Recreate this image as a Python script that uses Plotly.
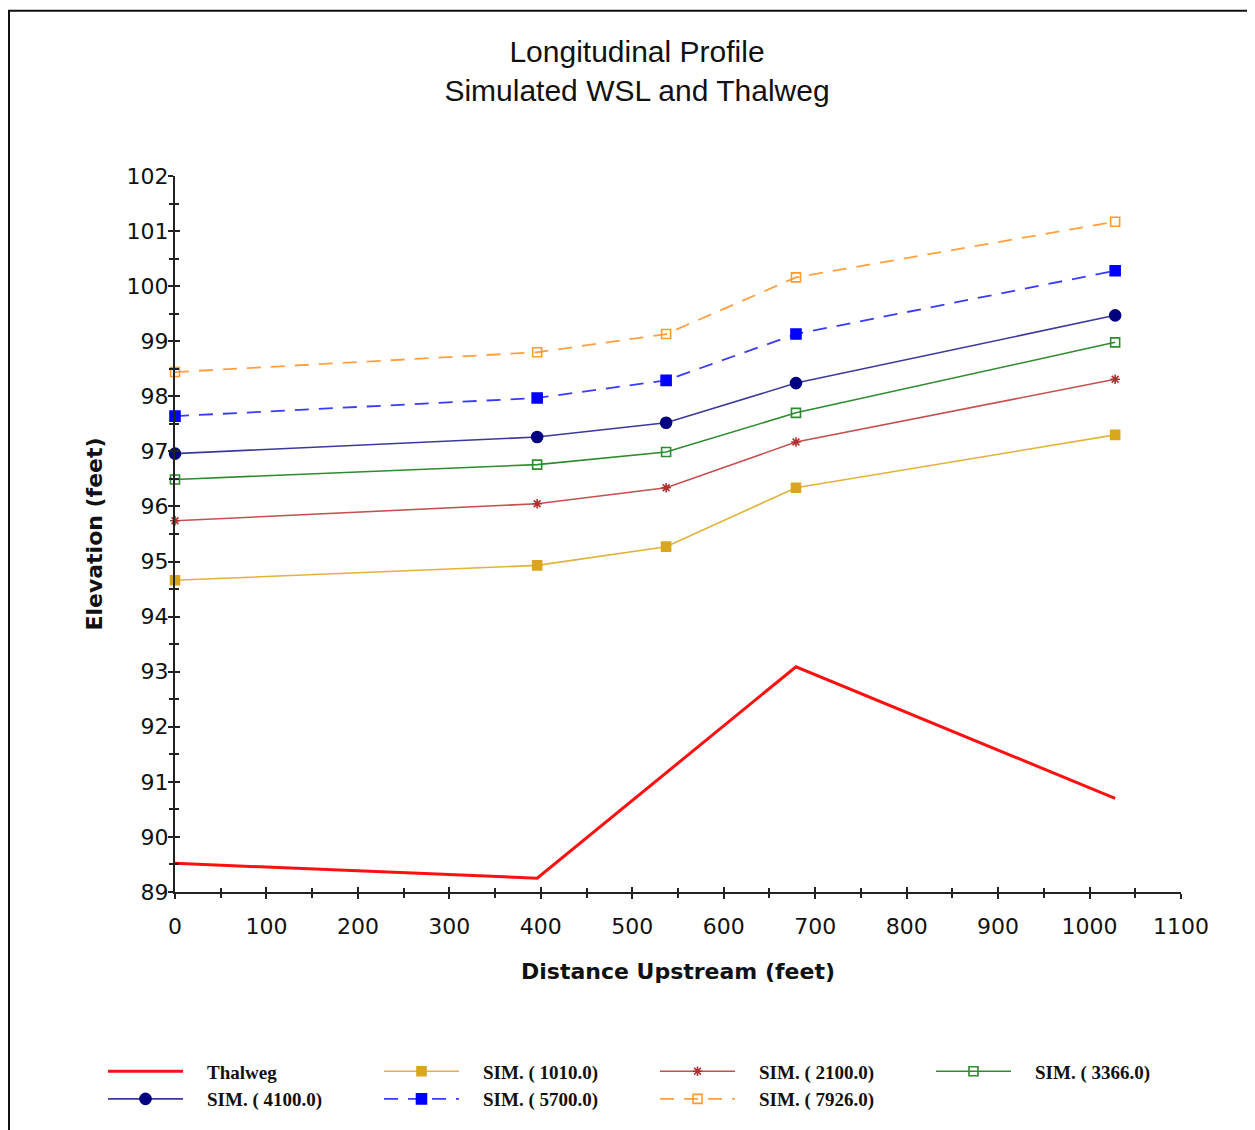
import plotly.graph_objects as go

# ---- data ----
distance = [0, 396, 537, 679, 1028]
thalweg_x = [0, 396, 679, 1028]
thalweg = [89.52, 89.25, 93.09, 90.70]
sim_1010 = [94.66, 94.93, 95.27, 96.34, 97.30]
sim_2100 = [95.74, 96.05, 96.34, 97.17, 98.31]
sim_3366 = [96.49, 96.76, 96.99, 97.70, 98.98]
sim_4100 = [96.96, 97.26, 97.52, 98.24, 99.47]
sim_5700 = [97.64, 97.97, 98.29, 99.13, 100.28]
sim_7926 = [98.44, 98.80, 99.13, 100.16, 101.17]

names = ["Thalweg", "SIM. ( 1010.0)", "SIM. ( 2100.0)", "SIM. ( 3366.0)",
         "SIM. ( 4100.0)", "SIM. ( 5700.0)", "SIM. ( 7926.0)"]

x_ticks = list(range(0, 1101, 100))
y_ticks = list(range(89, 103))

# layout geometry (figure pixels; the page adds an 8px body margin)
W, H = 1247, 1122
L, T, PW, PH = 167, 168, 1006, 719
R, B = W - L - PW, H - T - PH

def px_x(fx):
    return (fx - L) / PW

def px_y(fy):
    return (T + PH - fy) / PH

pad = "\u00a0" * 4

fig = go.Figure()

fig.add_trace(go.Scatter(x=thalweg_x, y=thalweg, name=pad + names[0], mode="lines",
                         line=dict(color="#FF1010", width=3)))

specs = [
    (sim_1010, names[1], "#E2B23A", "#DAA520", "square", 9, "solid", 1.6),
    (sim_2100, names[2], "#C45050", "#B03030", "asterisk-open", 8, "solid", 1.6),
    (sim_3366, names[3], "#2E8B2E", "#2E8B2E", "square-open", 9, "solid", 1.6),
    (sim_4100, names[4], "#3A3A9A", "#000080", "circle", 11, "solid", 1.6),
    (sim_5700, names[5], "#3A3AFF", "#0000FF", "square", 10, "14px,10px", 1.8),
    (sim_7926, names[6], "#FFA040", "#FF9A30", "square-open", 9, "14px,10px", 1.8),
]
for ys, nm, lc, mc, sym, ms, dash, lw in specs:
    fig.add_trace(go.Scatter(
        x=distance, y=ys, name=pad + nm, mode="lines+markers",
        line=dict(color=lc, width=lw, dash=dash),
        marker=dict(symbol=sym, size=ms, color=mc,
                    line=dict(color=mc, width=1.6)),
        cliponaxis=False))

# empty trace so the overlay axes (outside half of the crossing ticks) are drawn
fig.add_trace(go.Scatter(x=[], y=[], xaxis="x2", yaxis="y2", showlegend=False,
                         hoverinfo="skip"))

tick_font = dict(family="DejaVu Sans", size=22, color="#111111")
title_font = dict(family="DejaVu Sans", size=22, color="#111111", weight="bold")
axc = "#222222"

common = dict(showgrid=False, zeroline=False, showline=True, linecolor=axc,
              linewidth=2, tickwidth=1.5, tickcolor=axc)

fig.update_layout(
    width=W, height=H,
    margin=dict(l=L, r=R, t=T, b=B),
    paper_bgcolor="white", plot_bgcolor="white",
    title=dict(text="Longitudinal Profile<br>Simulated WSL and Thalweg",
               x=629 / W, xanchor="center", xref="container",
               y=1 - 54 / H, yanchor="middle", yref="container",
               font=dict(family="Liberation Sans", size=30, color="#111111")),
    xaxis=dict(range=[0, 1100], tickvals=x_ticks, ticktext=[str(v) for v in x_ticks],
               ticks="inside", ticklen=5, tickfont=tick_font, ticklabelstandoff=14,
               minor=dict(dtick=50, ticks="inside", ticklen=4, tickcolor=axc),
               title=dict(text="Distance Upstream (feet)", font=title_font, standoff=25),
               **common),
    yaxis=dict(range=[89, 102], tickvals=y_ticks, ticktext=[str(v) for v in y_ticks],
               ticks="inside", ticklen=5, tickfont=tick_font, ticklabelstandoff=0,
               minor=dict(dtick=0.5, ticks="inside", ticklen=4, tickcolor=axc),
               title=dict(text="Elevation (feet)", font=title_font, standoff=18),
               **common),
    xaxis2=dict(range=[0, 1100], overlaying="x", side="bottom", anchor="y2",
                tickvals=x_ticks, showticklabels=False, ticks="outside", ticklen=5,
                minor=dict(dtick=50, ticks="outside", ticklen=4, tickcolor=axc),
                **common),
    yaxis2=dict(range=[89, 102], overlaying="y", side="left", anchor="x2",
                tickvals=y_ticks, showticklabels=False, ticks="outside", ticklen=5,
                minor=dict(dtick=0.5, ticks="outside", ticklen=4, tickcolor=axc),
                **common),
    legend=dict(orientation="h", x=px_x(95), xanchor="left",
                y=px_y(1048), yanchor="top",
                itemwidth=75, entrywidth=186, entrywidthmode="pixels",
                font=dict(family="Liberation Serif", size=19, color="#111111",
                          weight="bold"),
                tracegroupgap=0, bgcolor="rgba(0,0,0,0)"),
    showlegend=True,
)

# outer frame of the picture
fig.add_shape(type="rect", xref="paper", yref="paper",
              x0=px_x(1), x1=px_x(1242), y0=px_y(1140), y1=px_y(2),
              line=dict(color="#111111", width=2), layer="below")

fig.write_html("out.html")
